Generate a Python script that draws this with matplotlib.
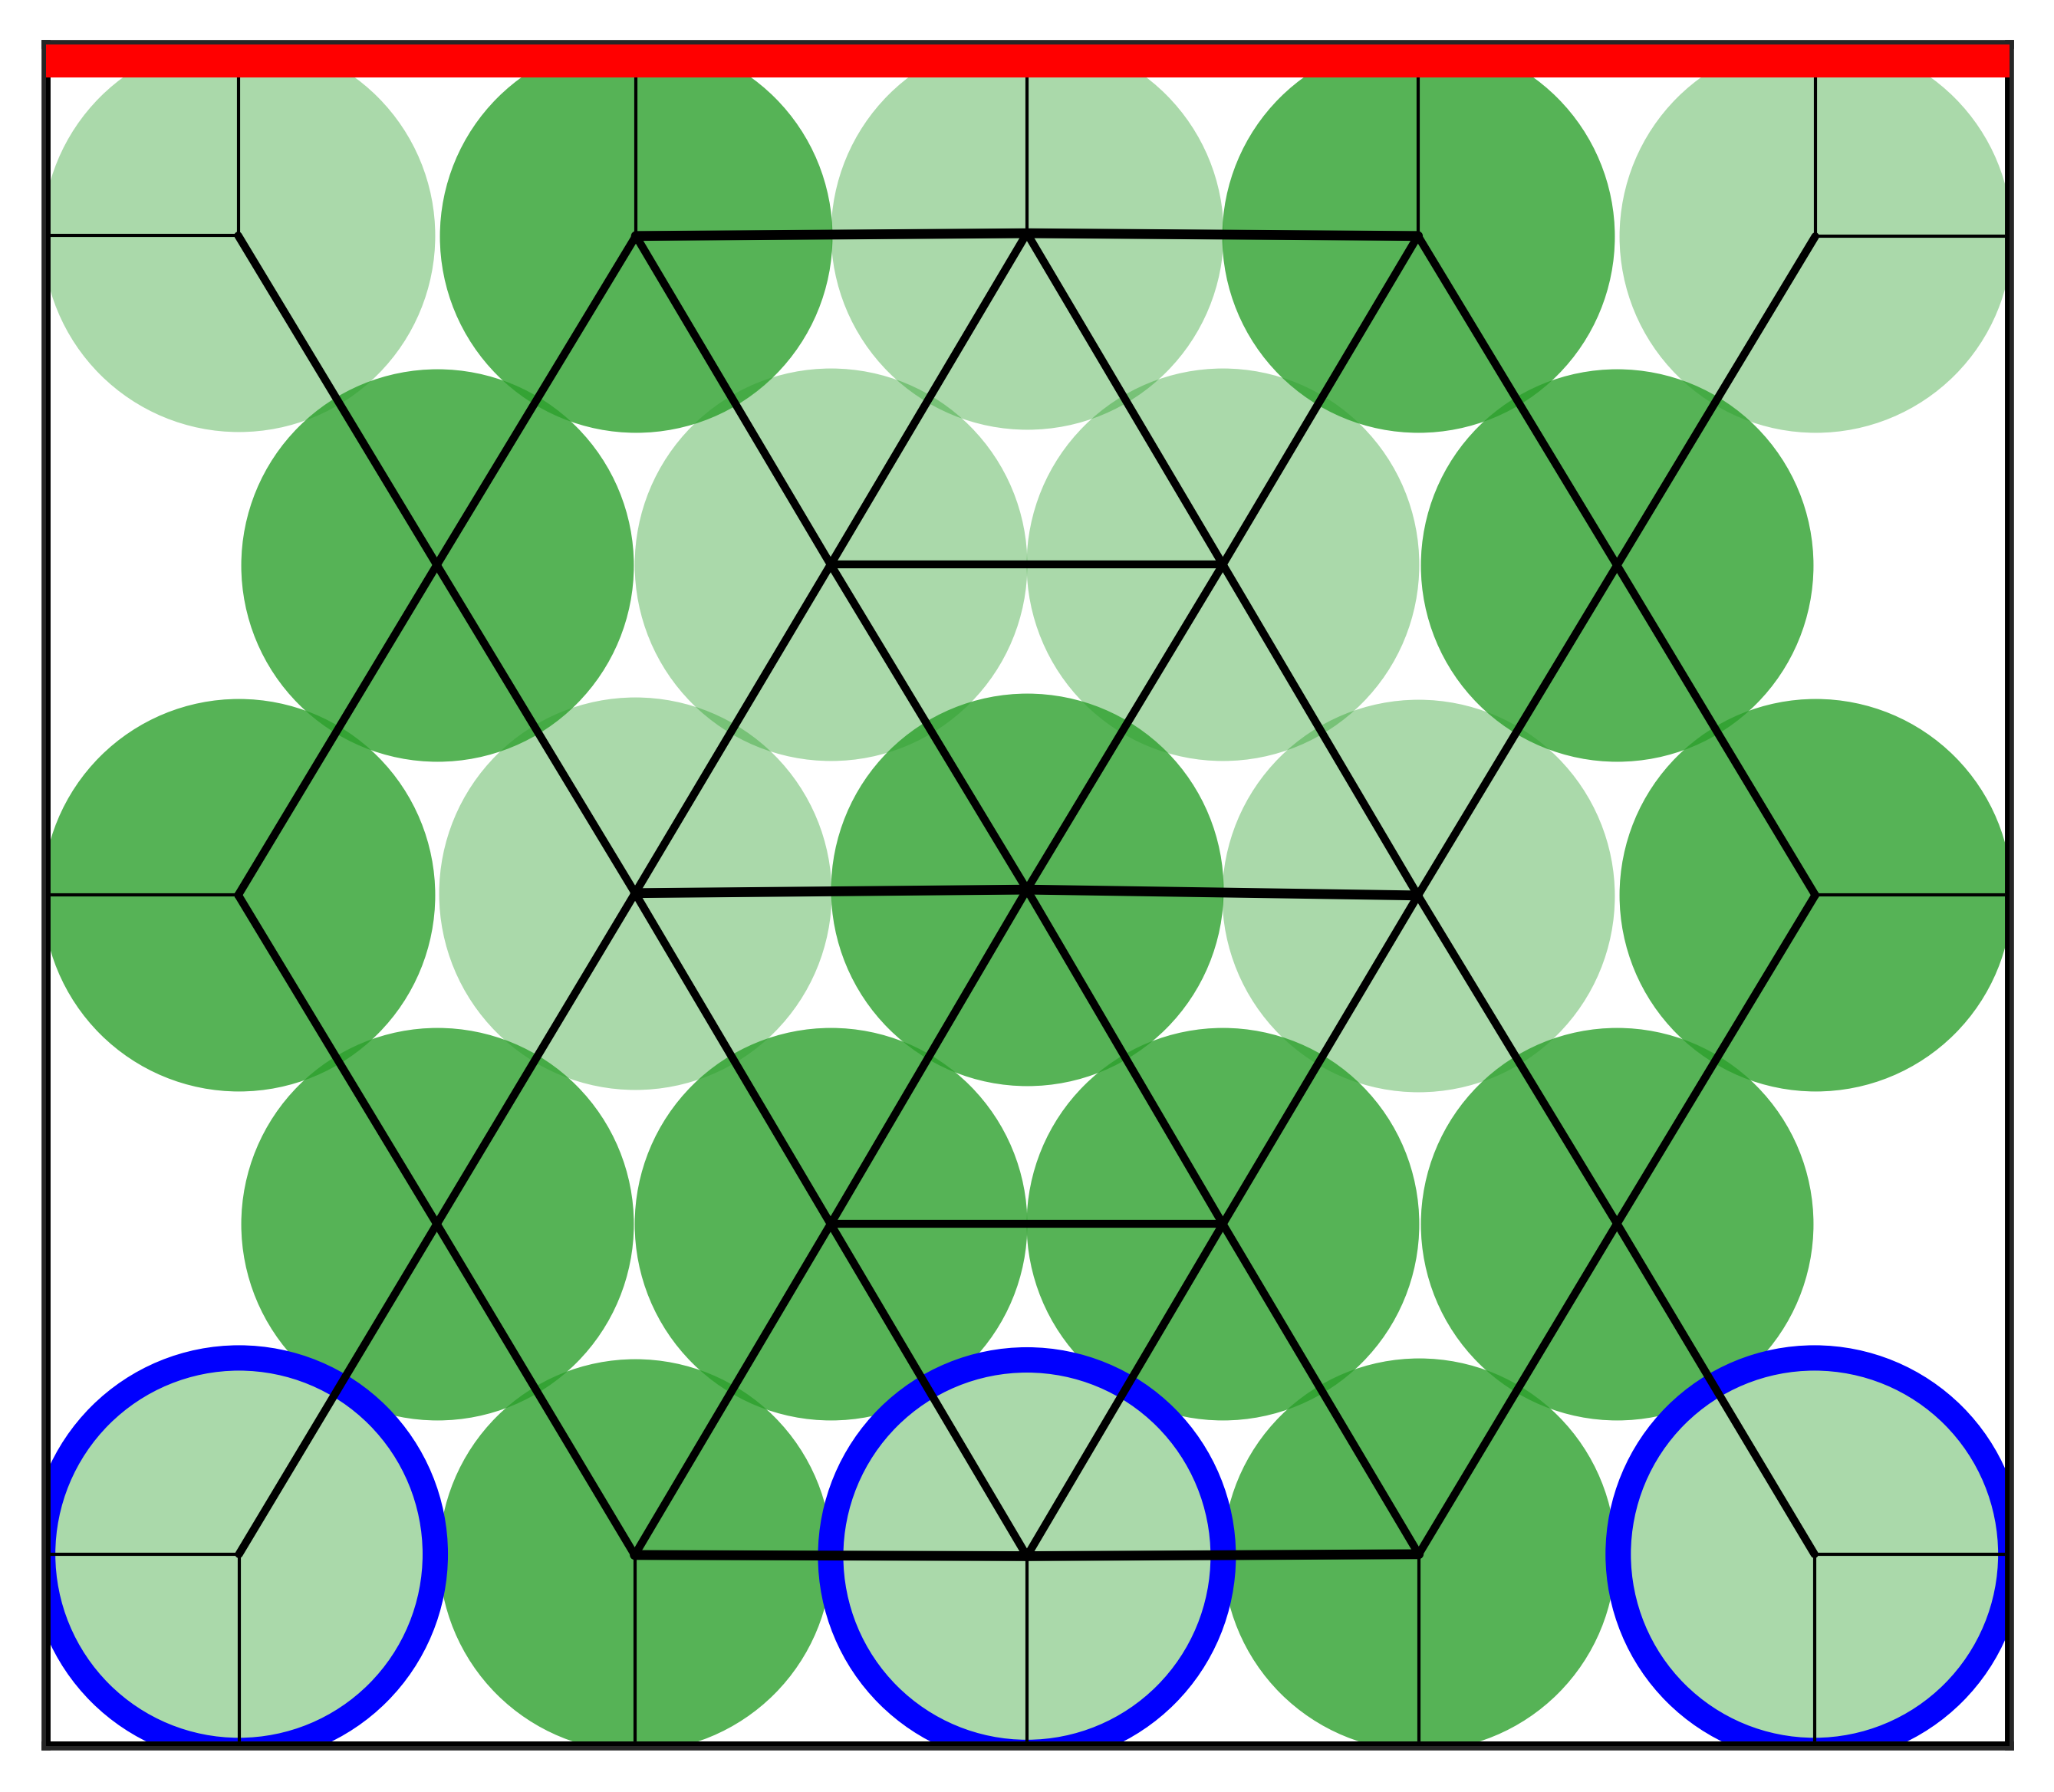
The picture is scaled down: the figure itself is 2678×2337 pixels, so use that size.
import numpy as np
import matplotlib
matplotlib.use('Agg')
import matplotlib.pyplot as plt
from matplotlib.patches import Rectangle

# cell centres, rows A..E from top (index order A0-A4, B0-B3, C0-C4, D0-D3, E0-E4)
cell_x = [0.489, 1.502, 2.498, 3.494, 4.506,
          0.995, 1.998, 2.997, 4.001,
          0.489, 1.500, 2.498, 3.494, 4.506,
          0.995, 1.998, 2.997, 4.001,
          0.491, 1.499, 2.498, 3.496, 4.504]
cell_y = [3.847, 3.846, 3.853, 3.846, 3.845,
          3.008, 3.009, 3.009, 3.007,
          2.167, 2.172, 2.181, 2.166, 2.167,
          1.329, 1.329, 1.329, 1.330,
          0.488, 0.486, 0.483, 0.488, 0.488]
cell_shade = ['light', 'dark', 'light', 'dark', 'light',
              'dark', 'light', 'light', 'dark',
              'dark', 'light', 'dark', 'light', 'dark',
              'dark', 'dark', 'dark', 'dark',
              'light', 'dark', 'light', 'dark', 'light']
ringed = [18, 20, 22]

# network edges between cells, 'major' ones are drawn heavier
edges = [(1, 2, 'major'), (2, 3, 'major'),
         (0, 5, 'minor'), (1, 5, 'minor'), (1, 6, 'minor'), (2, 6, 'minor'),
         (2, 7, 'minor'), (3, 7, 'minor'), (3, 8, 'minor'), (4, 8, 'minor'),
         (6, 7, 'minor'),
         (5, 9, 'minor'), (5, 10, 'minor'), (6, 10, 'minor'), (6, 11, 'minor'),
         (7, 11, 'minor'), (7, 12, 'minor'), (8, 12, 'minor'), (8, 13, 'minor'),
         (10, 11, 'major'), (11, 12, 'major'),
         (9, 14, 'minor'), (10, 14, 'minor'), (10, 15, 'minor'), (11, 15, 'minor'),
         (11, 16, 'minor'), (12, 16, 'minor'), (12, 17, 'minor'), (13, 17, 'minor'),
         (15, 16, 'minor'),
         (14, 18, 'minor'), (14, 19, 'minor'), (15, 19, 'minor'), (15, 20, 'minor'),
         (16, 20, 'minor'), (16, 21, 'minor'), (17, 21, 'minor'), (17, 22, 'minor'),
         (19, 20, 'major'), (20, 21, 'major')]

# cells tied to the box walls
wall_left = [0, 9, 18]
wall_right = [4, 13, 22]
wall_top = [0, 1, 2, 3, 4]
wall_bottom = [18, 19, 20, 21, 22]

box_w, box_h = 5.0, 4.333

fig = plt.figure(figsize=(13.39, 11.685), dpi=200)
ax = fig.add_axes([0.0225, 0.0258, 0.9557, 0.9492])
ax.set_xlim(0, box_w)
ax.set_ylim(0, box_h)
ax.set_xticks([])
ax.set_yticks([])
for sp in ax.spines.values():
    sp.set_color('#262626')
    sp.set_linewidth(4.2)

# marker diameter = 1 data unit
diam_pt = fig.get_figwidth() * 0.9557 * 72 / box_w
msize = diam_pt ** 2

green = '#2ca02c'
x = np.array(cell_x)
y = np.array(cell_y)
light = np.array([s == 'light' for s in cell_shade])
ax.scatter(x[light], y[light], s=msize, color=green, alpha=0.4, linewidths=0, zorder=1)
ax.scatter(x[~light], y[~light], s=msize, color=green, alpha=0.8, linewidths=0, zorder=1)
ax.scatter(x[ringed], y[ringed], s=msize, facecolors='none', edgecolors='blue',
           linewidths=11.9, zorder=1.5)

for i, j, kind in edges:
    lw = 4.6 if kind == 'major' else 3.7
    ax.plot([x[i], x[j]], [y[i], y[j]], color='black', lw=lw,
            solid_capstyle='round', zorder=2)

thin = dict(color='black', lw=1.5, zorder=2)
for i in wall_left:
    ax.plot([0, x[i]], [y[i], y[i]], **thin)
for i in wall_right:
    ax.plot([x[i], box_w], [y[i], y[i]], **thin)
for i in wall_top:
    ax.plot([x[i], x[i]], [y[i], box_h], **thin)
for i in wall_bottom:
    ax.plot([x[i], x[i]], [0, y[i]], **thin)

# box walls (clipped, so only the inner half shows)
ax.plot([0, box_w, box_w, 0, 0], [0, 0, box_h, box_h, 0], color='black', lw=4.2, zorder=3)

# red wall along the top
ax.add_patch(Rectangle((0, 1 - 0.019), 1, 0.019, transform=ax.transAxes,
                       color='red', lw=0, zorder=5))

fig.savefig('out.png', dpi=200)
